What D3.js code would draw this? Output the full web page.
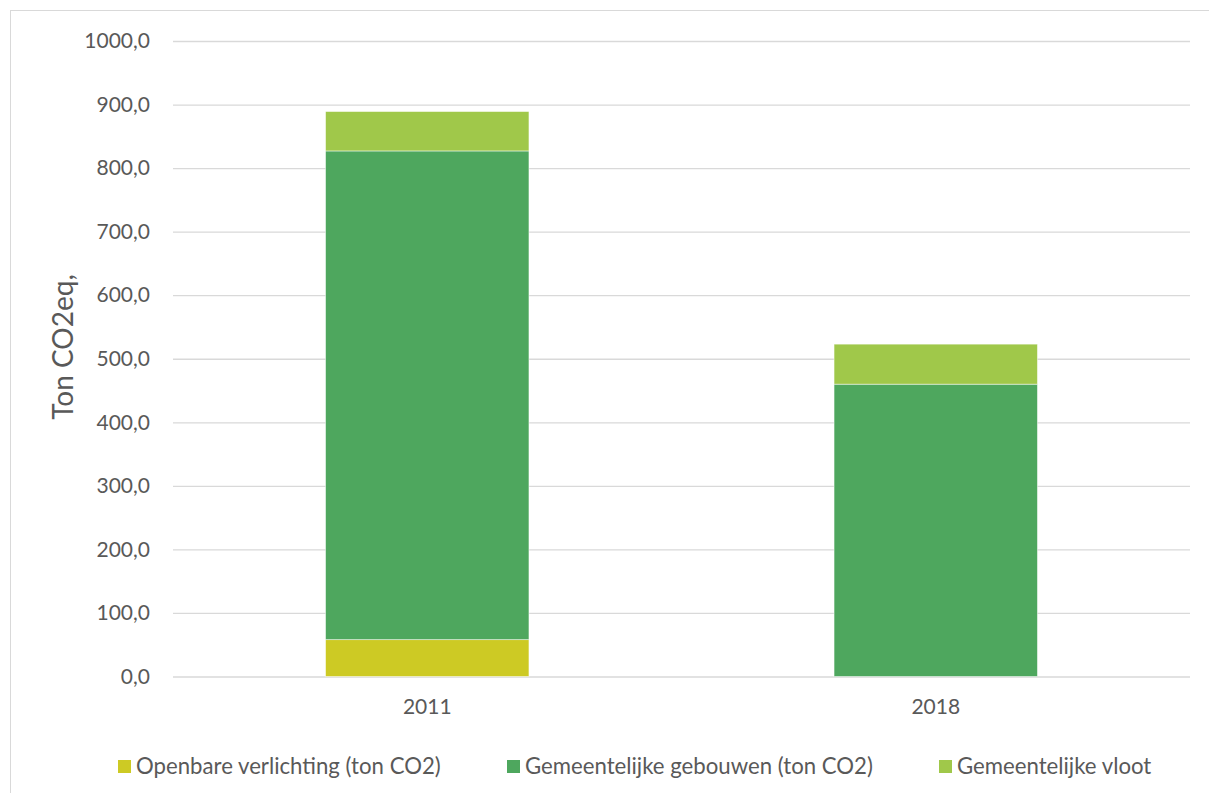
<!DOCTYPE html>
<html>
<head>
<meta charset="utf-8">
<script src="https://cdn.jsdelivr.net/npm/d3@7"></script>
<style>
  html, body { margin: 0; padding: 0; background: #fff; }
  svg { display: block; }
  text { font-family: Lato, "Open Sans", sans-serif; fill: #595959; }
</style>
</head>
<body>
<svg id="chart" width="1209" height="793"></svg>
<script>
// Emissions per year, stacked by source (ton CO2eq)
const years = ["2011", "2018"];
const seriesNames = [
  "Openbare verlichting (ton CO2)",
  "Gemeentelijke gebouwen (ton CO2)",
  "Gemeentelijke vloot"
];
const openbareVerlichting = [58, 0];
const gemeentelijkeGebouwen = [769, 460];
const gemeentelijkeVloot = [62, 63];
const yTicks = [0, 100, 200, 300, 400, 500, 600, 700, 800, 900, 1000];
const seriesColors = ["#CDCA24", "#4EA75E", "#A0C84A"];

const svg = d3.select("#chart");
const W = 1209, H = 793;

// chart frame
svg.append("rect")
  .attr("x", 10.5).attr("y", 10.5)
  .attr("width", W + 20).attr("height", H + 20)
  .attr("fill", "#fff").attr("stroke", "#d9d9d9").attr("stroke-width", 1);

const plot = { left: 173, right: 1190, top: 41, bottom: 676.5 };

const x = d3.scaleBand()
  .domain(years)
  .range([plot.left, plot.right])
  .paddingInner(0.6)
  .paddingOuter(0.3);

const y = d3.scaleLinear()
  .domain([0, 1000])
  .range([plot.bottom, plot.top]);

// gridlines + value labels
const yAxis = d3.axisLeft(y)
  .tickValues(yTicks)
  .tickSize(-(plot.right - plot.left))
  .tickPadding(23)
  .tickFormat(d => d3.format(".1f")(d).replace(".", ","));

const gy = svg.append("g")
  .attr("transform", `translate(${plot.left},0)`)
  .call(yAxis);
gy.select(".domain").remove();
gy.selectAll(".tick line").attr("stroke", "#d9d9d9").attr("stroke-width", 1.3);
gy.selectAll(".tick text")
  .attr("font-size", 21)
  .attr("fill", "#595959")
  .style("font-family", "Lato, 'Open Sans', sans-serif");

// stacked bars
const rows = years.map((yr, i) => ({
  year: yr,
  [seriesNames[0]]: openbareVerlichting[i],
  [seriesNames[1]]: gemeentelijkeGebouwen[i],
  [seriesNames[2]]: gemeentelijkeVloot[i]
}));
const stacked = d3.stack().keys(seriesNames)(rows);

svg.append("g")
  .selectAll("g")
  .data(stacked)
  .join("g")
  .attr("fill", (d, i) => seriesColors[i])
  .selectAll("rect")
  .data(d => d.filter(s => s[1] - s[0] > 0))
  .join("rect")
  .attr("x", d => x(d.data.year))
  .attr("width", x.bandwidth())
  .attr("y", d => y(d[1]))
  .attr("height", d => y(d[0]) - y(d[1]))
  .attr("stroke", "#ffffff")
  .attr("stroke-opacity", 0.6)
  .attr("stroke-width", 0.8);

// category axis labels
const gx = svg.append("g")
  .attr("transform", `translate(0,${plot.bottom})`)
  .call(d3.axisBottom(x).tickSize(0).tickPadding(23));
gx.select(".domain").remove();
gx.selectAll(".tick text")
  .attr("font-size", 21)
  .attr("fill", "#595959")
  .style("font-family", "Lato, 'Open Sans', sans-serif");

// axis title
svg.append("text")
  .attr("transform", `translate(73,347) rotate(-90)`)
  .attr("text-anchor", "middle")
  .attr("font-size", 28)
  .text("Ton CO2eq,");

// legend
const legendX = [118, 507, 939];
const legend = svg.append("g")
  .selectAll("g")
  .data(seriesNames)
  .join("g")
  .attr("transform", (d, i) => `translate(${legendX[i]},760)`);
legend.append("rect")
  .attr("width", 13).attr("height", 13)
  .attr("fill", (d, i) => seriesColors[i]);
legend.append("text")
  .attr("x", 18).attr("y", 14)
  .attr("font-size", 22.2)
  .text(d => d);
</script>
</body>
</html>
